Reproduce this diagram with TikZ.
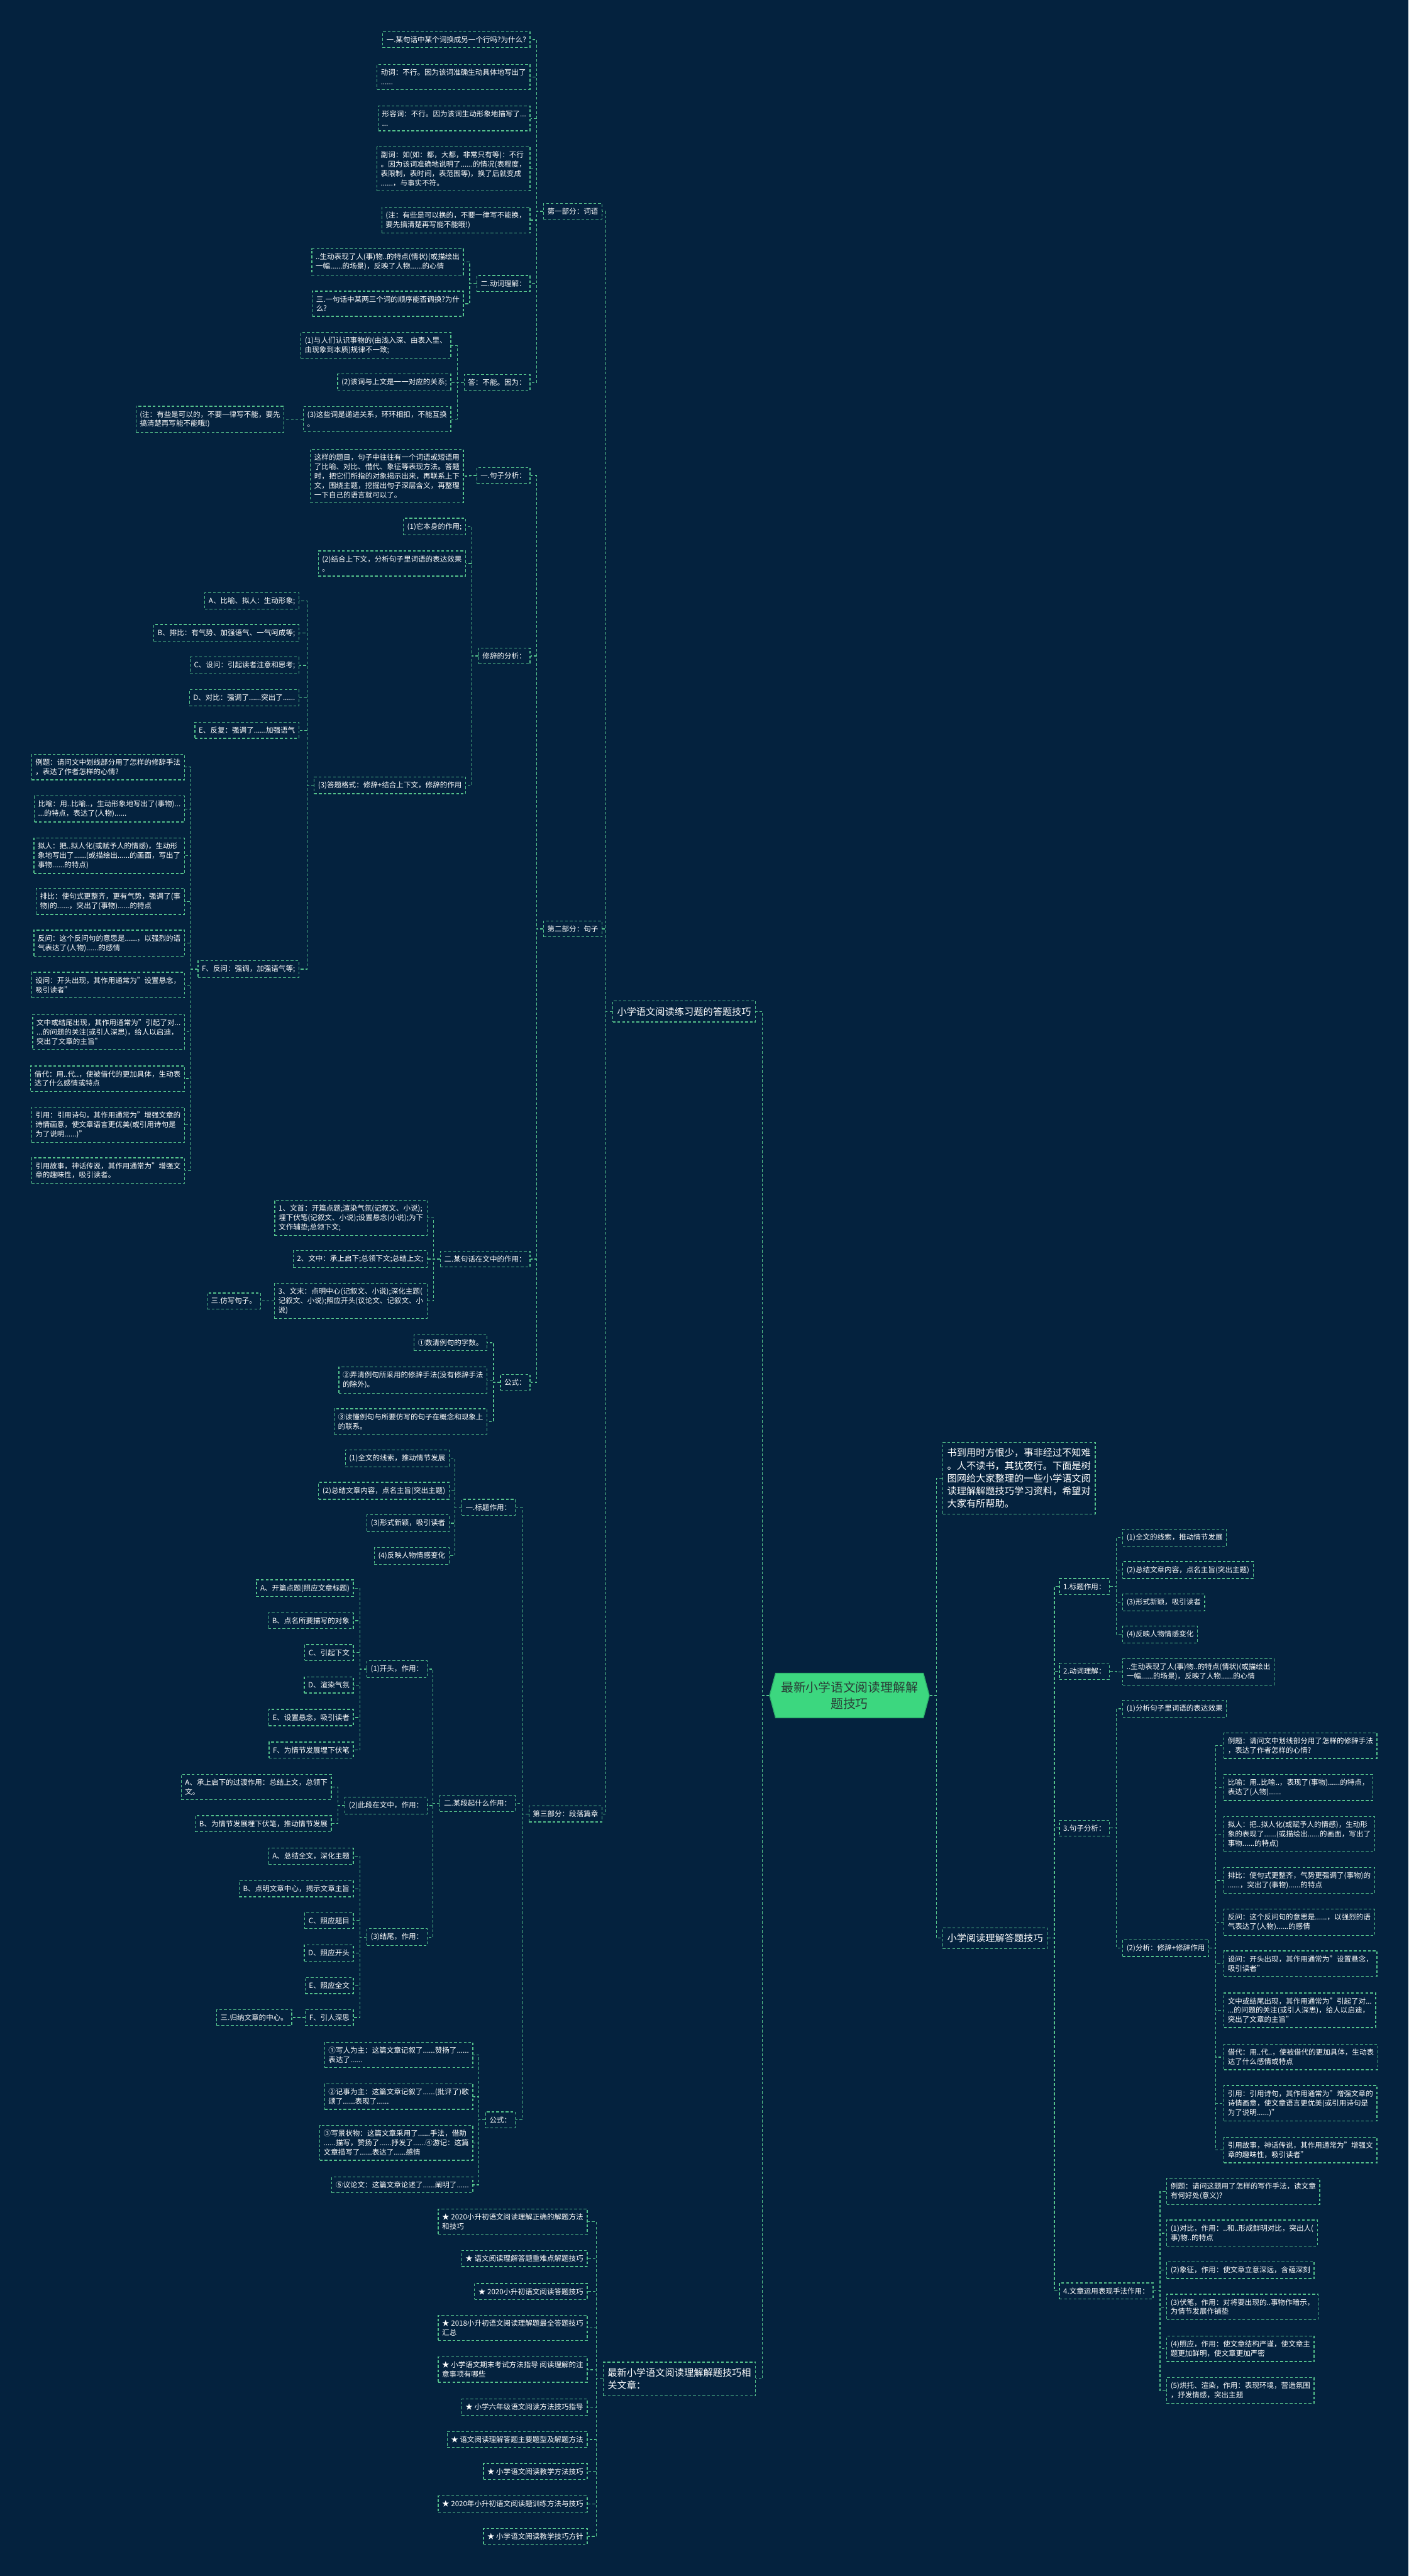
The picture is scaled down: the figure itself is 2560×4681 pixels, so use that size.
\documentclass[tikz,border=0pt]{standalone}
\usepackage{fontspec}
\setmainfont{Noto Sans CJK SC}
\usepackage{xcolor}
\usepackage{tikz}
\usetikzlibrary{shapes.symbols}

\definecolor{bgblue}{HTML}{04223E}
\definecolor{linegreen}{HTML}{55C28C}
\definecolor{rootgreen}{HTML}{3CD77F}
\definecolor{rootedge}{HTML}{2CB06A}
\definecolor{roottext}{HTML}{2A3B36}

\begin{document}
\begin{tikzpicture}[x=0.5pt,y=-0.5pt,
    mmbox/.style={draw=linegreen,line width=0.7pt,dash pattern=on 2.5pt off 1.8pt,text=white,
      font=\fontsize{6.6}{8.5}\selectfont,align=left,inner xsep=3.5pt,inner ysep=4.2pt},
    bigbox/.style={mmbox,font=\fontsize{8.7}{11.5}\selectfont,inner xsep=4pt,inner ysep=5.5pt},
    lbox/.style={mmbox,anchor=east},
    rbox/.style={mmbox,anchor=west},
    link/.style={draw=linegreen,line width=0.7pt,dash pattern=on 2.5pt off 1.8pt},
    rootnode/.style={shape=signal,signal to=west and east,signal pointer angle=150,
      fill=rootgreen,draw=rootedge,line width=0.8pt,text=roottext,align=center,
      font=\fontsize{11.3}{15}\selectfont,inner xsep=5pt,inner ysep=7.5pt}]
    \fill[bgblue] (0,0) rectangle (2560,4681);
    \useasboundingbox (0,0) rectangle (2560,4681);

    \node[rootnode] (root) at (1544,3081) {最新小学语文阅读理解解\\题技巧};

    \node[bigbox,anchor=east] (lA) at (1374,1838) {小学语文阅读练习题的答题技巧};
    \node[bigbox,anchor=east] (lB) at (1374,4323) {最新小学语文阅读理解解题技巧相\\关文章：};

    \node[lbox] (p1) at (1095,384) {第一部分：词语};
    \node[lbox] (p2) at (1095,1688) {第二部分：句子};
    \node[lbox] (p3) at (1095,3296) {第三部分：段落篇章};

    \node[lbox] (a1) at (964,72) {一.某句话中某个词换成另一个行吗?为什么?};
    \node[lbox] (a2) at (964,140) {动词：不行。因为该词准确生动具体地写出了\\......};
    \node[lbox] (a3) at (964,215) {形容词：不行。因为该词生动形象地描写了...\\...};
    \node[lbox] (a4) at (964,307) {副词：如(如：都，大都，非常只有等)：不行\\。因为该词准确地说明了......的情况(表程度，\\表限制，表时间，表范围等)，换了后就变成\\......，与事实不符。};
    \node[lbox] (a5) at (964,400) {(注：有些是可以换的，不要一律写不能换，\\要先搞清楚再写能不能哦!)};
    \node[lbox] (a6) at (964,515) {二.动词理解：};
    \node[lbox] (a61) at (843,476) {..生动表现了人(事)物..的特点(情状)(或描绘出\\一幅......的场景)，反映了人物......的心情};
    \node[lbox] (a62) at (843,552) {三.一句话中某两三个词的顺序能否调换?为什\\么?};
    \node[lbox] (a7) at (964,695) {答：不能。因为：};
    \node[lbox] (a71) at (820,628) {(1)与人们认识事物的(由浅入深、由表入里、\\由现象到本质)规律不一致;};
    \node[lbox] (a72) at (820,695) {(2)该词与上文是一一对应的关系;};
    \node[lbox] (a73) at (820,762) {(3)这些词是递进关系，环环相扣，不能互换\\。};
    \node[lbox] (a731) at (517,762) {(注：有些是可以的，不要一律写不能，要先\\搞清楚再写能不能哦!)};

    \node[lbox] (b1) at (964,864) {一.句子分析：};
    \node[lbox] (b11) at (843,865) {这样的题目，句子中往往有一个词语或短语用\\了比喻、对比、借代、象征等表现方法。答题\\时，把它们所指的对象揭示出来，再联系上下\\文，围绕主题，挖掘出句子深层含义，再整理\\一下自己的语言就可以了。};
    \node[lbox] (b2) at (964,1192) {修辞的分析：};
    \node[lbox] (b21) at (847,957) {(1)它本身的作用;};
    \node[lbox] (b22) at (847,1024) {(2)结合上下文，分析句子里词语的表达效果\\。};
    \node[lbox] (b23) at (847,1427) {(3)答题格式：修辞+结合上下文，修辞的作用};
    \node[lbox] (c1) at (544,1092) {A、比喻、拟人：生动形象;};
    \node[lbox] (c2) at (544,1150) {B、排比：有气势、加强语气、一气呵成等;};
    \node[lbox] (c3) at (544,1209) {C、设问：引起读者注意和思考;};
    \node[lbox] (c4) at (544,1268) {D、对比：强调了......突出了......};
    \node[lbox] (c5) at (544,1327) {E、反复：强调了......加强语气};
    \node[lbox] (c6) at (544,1761) {F、反问：强调，加强语气等;};
    \node[lbox] (e1) at (336,1394) {例题：请问文中划线部分用了怎样的修辞手法\\，表达了作者怎样的心情?};
    \node[lbox] (e2) at (336,1470) {比喻：用..比喻..，生动形象地写出了(事物)...\\...的特点，表达了(人物)......};
    \node[lbox] (e3) at (336,1555) {拟人：把..拟人化(或赋予人的情感)，生动形\\象地写出了......(或描绘出......的画面，写出了\\事物......的特点)};
    \node[lbox] (e4) at (336,1638) {排比：使句式更整齐，更有气势，强调了(事\\物)的......，突出了(事物)......的特点};
    \node[lbox] (e5) at (336,1714) {反问：这个反问句的意思是......，以强烈的语\\气表达了(人物)......的感情};
    \node[lbox] (e6) at (336,1790) {设问：开头出现，其作用通常为"设置悬念，\\吸引读者"};
    \node[lbox] (e7) at (336,1875) {文中或结尾出现，其作用通常为"引起了对...\\...的问题的关注(或引人深思)，给人以启迪，\\突出了文章的主旨"};
    \node[lbox] (e8) at (336,1960) {借代：用..代..，使被借代的更加具体，生动表\\达了什么感情或特点};
    \node[lbox] (e9) at (336,2044) {引用：引用诗句，其作用通常为"增强文章的\\诗情画意，使文章语言更优美(或引用诗句是\\为了说明......)"};
    \node[lbox] (e10) at (336,2127) {引用故事，神话传说，其作用通常为"增强文\\章的趣味性，吸引读者。};
    \node[lbox] (b3) at (964,2288) {二.某句话在文中的作用：};
    \node[lbox] (b31) at (777,2213) {1、文首：开篇点题;渲染气氛(记叙文、小说);\\埋下伏笔(记叙文、小说);设置悬念(小说);为下\\文作辅垫;总领下文;};
    \node[lbox] (b32) at (777,2288) {2、文中：承上启下;总领下文;总结上文;};
    \node[lbox] (b33) at (777,2364) {3、文末：点明中心(记叙文、小说);深化主题(\\记叙文、小说);照应开头(议论文、记叙文、小\\说)};
    \node[lbox] (b331) at (474,2364) {三.仿写句子。};
    \node[lbox] (b4) at (964,2512) {公式：};
    \node[lbox] (b41) at (886,2440) {①数清例句的字数。};
    \node[lbox] (b42) at (886,2508) {②弄清例句所采用的修辞手法(没有修辞手法\\的除外)。};
    \node[lbox] (b43) at (886,2583) {③读懂例句与所要仿写的句子在概念和现象上\\的联系。};

    \node[lbox] (d1) at (937,2739) {一.标题作用：};
    \node[lbox] (d11) at (817,2650) {(1)全文的线索，推动情节发展};
    \node[lbox] (d12) at (817,2709) {(2)总结文章内容，点名主旨(突出主题)};
    \node[lbox] (d13) at (817,2768) {(3)形式新颖，吸引读者};
    \node[lbox] (d14) at (817,2827) {(4)反映人物情感变化};
    \node[lbox] (d2) at (937,3277) {二.某段起什么作用：};
    \node[lbox] (d21) at (777,3033) {(1)开头，作用：};
    \node[lbox] (f1) at (643,2886) {A、开篇点题(照应文章标题)};
    \node[lbox] (f2) at (643,2945) {B、点名所要描写的对象};
    \node[lbox] (f3) at (643,3003) {C、引起下文};
    \node[lbox] (f4) at (643,3062) {D、渲染气氛};
    \node[lbox] (f5) at (643,3121) {E、设置悬念，吸引读者};
    \node[lbox] (f6) at (643,3180) {F、为情节发展埋下伏笔};
    \node[lbox] (d22) at (777,3281) {(2)此段在文中，作用：};
    \node[lbox] (g1) at (603,3247) {A、承上启下的过渡作用：总结上文，总领下\\文。};
    \node[lbox] (g2) at (603,3314) {B、为情节发展埋下伏笔，推动情节发展};
    \node[lbox] (d23) at (777,3520) {(3)结尾，作用：};
    \node[lbox] (h1) at (643,3373) {A、总结全文，深化主题};
    \node[lbox] (h2) at (643,3432) {B、点明文章中心，揭示文章主旨};
    \node[lbox] (h3) at (643,3490) {C、照应题目};
    \node[lbox] (h4) at (643,3549) {D、照应开头};
    \node[lbox] (h5) at (643,3608) {E、照应全文};
    \node[lbox] (h6) at (643,3666) {F、引人深思};
    \node[lbox] (h61) at (531,3666) {三.归纳文章的中心。};
    \node[lbox] (d3) at (937,3852) {公式：};
    \node[lbox] (k1) at (860,3734) {①写人为主：这篇文章记叙了......赞扬了......\\表达了......};
    \node[lbox] (k2) at (860,3810) {②记事为主：这篇文章记叙了......(批评了)歌\\颂了......表现了......};
    \node[lbox] (k3) at (860,3894) {③写景状物：这篇文章采用了......手法，借助\\......描写，赞扬了......抒发了......④游记：这篇\\文章描写了......表达了......感情};
    \node[lbox] (k4) at (860,3970) {⑤议论文：这篇文章论述了......阐明了......};

    \node[lbox] (r1) at (1068,4037) {★ 2020小升初语文阅读理解正确的解题方法\\和技巧};
    \node[lbox] (r2) at (1068,4104) {★ 语文阅读理解答题重难点解题技巧};
    \node[lbox] (r3) at (1068,4164) {★ 2020小升初语文阅读答题技巧};
    \node[lbox] (r4) at (1068,4230) {★ 2018小升初语文阅读理解题最全答题技巧\\汇总};
    \node[lbox] (r5) at (1068,4306) {★ 小学语文期末考试方法指导 阅读理解的注\\意事项有哪些};
    \node[lbox] (r6) at (1068,4374) {★ 小学六年级语文阅读方法技巧指导};
    \node[lbox] (r7) at (1068,4433) {★ 语文阅读理解答题主要题型及解题方法};
    \node[lbox] (r8) at (1068,4491) {★ 小学语文阅读教学方法技巧};
    \node[lbox] (r9) at (1068,4550) {★ 2020年小升初语文阅读题训练方法与技巧};
    \node[lbox] (r10) at (1068,4609) {★ 小学语文阅读教学技巧方针};

    \node[bigbox,anchor=west] (s1) at (1713,2686) {书到用时方恨少，事非经过不知难\\。人不读书，其犹夜行。下面是树\\图网给大家整理的一些小学语文阅\\读理解解题技巧学习资料，希望对\\大家有所帮助。};
    \node[bigbox,anchor=west] (s2) at (1713,3522) {小学阅读理解答题技巧};

    \node[rbox] (t1) at (1925,2883) {1.标题作用：};
    \node[rbox] (t11) at (2040,2794) {(1)全文的线索，推动情节发展};
    \node[rbox] (t12) at (2040,2853) {(2)总结文章内容，点名主旨(突出主题)};
    \node[rbox] (t13) at (2040,2912) {(3)形式新颖，吸引读者};
    \node[rbox] (t14) at (2040,2970) {(4)反映人物情感变化};
    \node[rbox] (t2) at (1925,3037) {2.动词理解：};
    \node[rbox] (t21) at (2040,3038) {..生动表现了人(事)物..的特点(情状)(或描绘出\\一幅......的场景)，反映了人物......的心情};
    \node[rbox] (t3) at (1925,3322) {3.句子分析：};
    \node[rbox] (t31) at (2040,3105) {(1)分析句子里词语的表达效果};
    \node[rbox] (t32) at (2040,3540) {(2)分析：修辞+修辞作用};
    \node[rbox] (u1) at (2224,3172) {例题：请问文中划线部分用了怎样的修辞手法\\，表达了作者怎样的心情?};
    \node[rbox] (u2) at (2224,3248) {比喻：用..比喻..，表现了(事物)......的特点，\\表达了(人物)......};
    \node[rbox] (u3) at (2224,3333) {拟人：把..拟人化(或赋予人的情感)，生动形\\象的表现了......(或描绘出......的画面，写出了\\事物......的特点)};
    \node[rbox] (u4) at (2224,3417) {排比：使句式更整齐，气势更强调了(事物)的\\......，突出了(事物)......的特点};
    \node[rbox] (u5) at (2224,3493) {反问：这个反问句的意思是......，以强烈的语\\气表达了(人物)......的感情};
    \node[rbox] (u6) at (2224,3568) {设问：开头出现，其作用通常为"设置悬念，\\吸引读者"};
    \node[rbox] (u7) at (2224,3653) {文中或结尾出现，其作用通常为"引起了对...\\...的问题的关注(或引人深思)，给人以启迪，\\突出了文章的主旨"};
    \node[rbox] (u8) at (2224,3738) {借代：用..代..，使被借代的更加具体，生动表\\达了什么感情或特点};
    \node[rbox] (u9) at (2224,3822) {引用：引用诗句，其作用通常为"增强文章的\\诗情画意，使文章语言更优美(或引用诗句是\\为了说明......)"};
    \node[rbox] (u10) at (2224,3907) {引用故事，神话传说，其作用通常为"增强文\\章的趣味性，吸引读者"};
    \node[rbox] (t4) at (1925,4163) {4.文章运用表现手法作用：};
    \node[rbox] (v1) at (2120,3982) {例题：请问这题用了怎样的写作手法，读文章\\有何好处(意义)?};
    \node[rbox] (v2) at (2120,4058) {(1)对比，作用：..和..形成鲜明对比，突出人(\\事)物..的特点};
    \node[rbox] (v3) at (2120,4125) {(2)象征，作用：使文章立意深远，含蕴深刻};
    \node[rbox] (v4) at (2120,4192) {(3)伏笔，作用：对将要出现的..事物作暗示，\\为情节发展作铺垫};
    \node[rbox] (v5) at (2120,4268) {(4)照应，作用：使文章结构严谨，使文章主\\题更加鲜明，使文章更加严密};
    \node[rbox] (v6) at (2120,4344) {(5)烘托、渲染，作用：表现环境，营造氛围\\，抒发情感，突出主题};

    \foreach \p/\c in {root/lA,root/lB,lA/p1,lA/p2,lA/p3,
        p1/a1,p1/a2,p1/a3,p1/a4,p1/a5,p1/a6,p1/a7,a6/a61,a6/a62,a7/a71,a7/a72,a7/a73,a73/a731,
        p2/b1,p2/b2,p2/b3,p2/b4,b1/b11,b2/b21,b2/b22,b2/b23,
        b23/c1,b23/c2,b23/c3,b23/c4,b23/c5,b23/c6,
        c6/e1,c6/e2,c6/e3,c6/e4,c6/e5,c6/e6,c6/e7,c6/e8,c6/e9,c6/e10,
        b3/b31,b3/b32,b3/b33,b33/b331,b4/b41,b4/b42,b4/b43,
        p3/d1,p3/d2,p3/d3,d1/d11,d1/d12,d1/d13,d1/d14,d2/d21,d2/d22,d2/d23,
        d21/f1,d21/f2,d21/f3,d21/f4,d21/f5,d21/f6,d22/g1,d22/g2,
        d23/h1,d23/h2,d23/h3,d23/h4,d23/h5,d23/h6,h6/h61,d3/k1,d3/k2,d3/k3,d3/k4,
        lB/r1,lB/r2,lB/r3,lB/r4,lB/r5,lB/r6,lB/r7,lB/r8,lB/r9,lB/r10}
        \draw[link] (\p.west) -- ++(-12,0) |- (\c.east);

    \foreach \p/\c in {root/s1,root/s2,s2/t1,s2/t2,s2/t3,s2/t4,
        t1/t11,t1/t12,t1/t13,t1/t14,t2/t21,t3/t31,t3/t32,
        t32/u1,t32/u2,t32/u3,t32/u4,t32/u5,t32/u6,t32/u7,t32/u8,t32/u9,t32/u10,
        t4/v1,t4/v2,t4/v3,t4/v4,t4/v5,t4/v6}
        \draw[link] (\p.east) -- ++(12,0) |- (\c.west);
\end{tikzpicture}
\end{document}
